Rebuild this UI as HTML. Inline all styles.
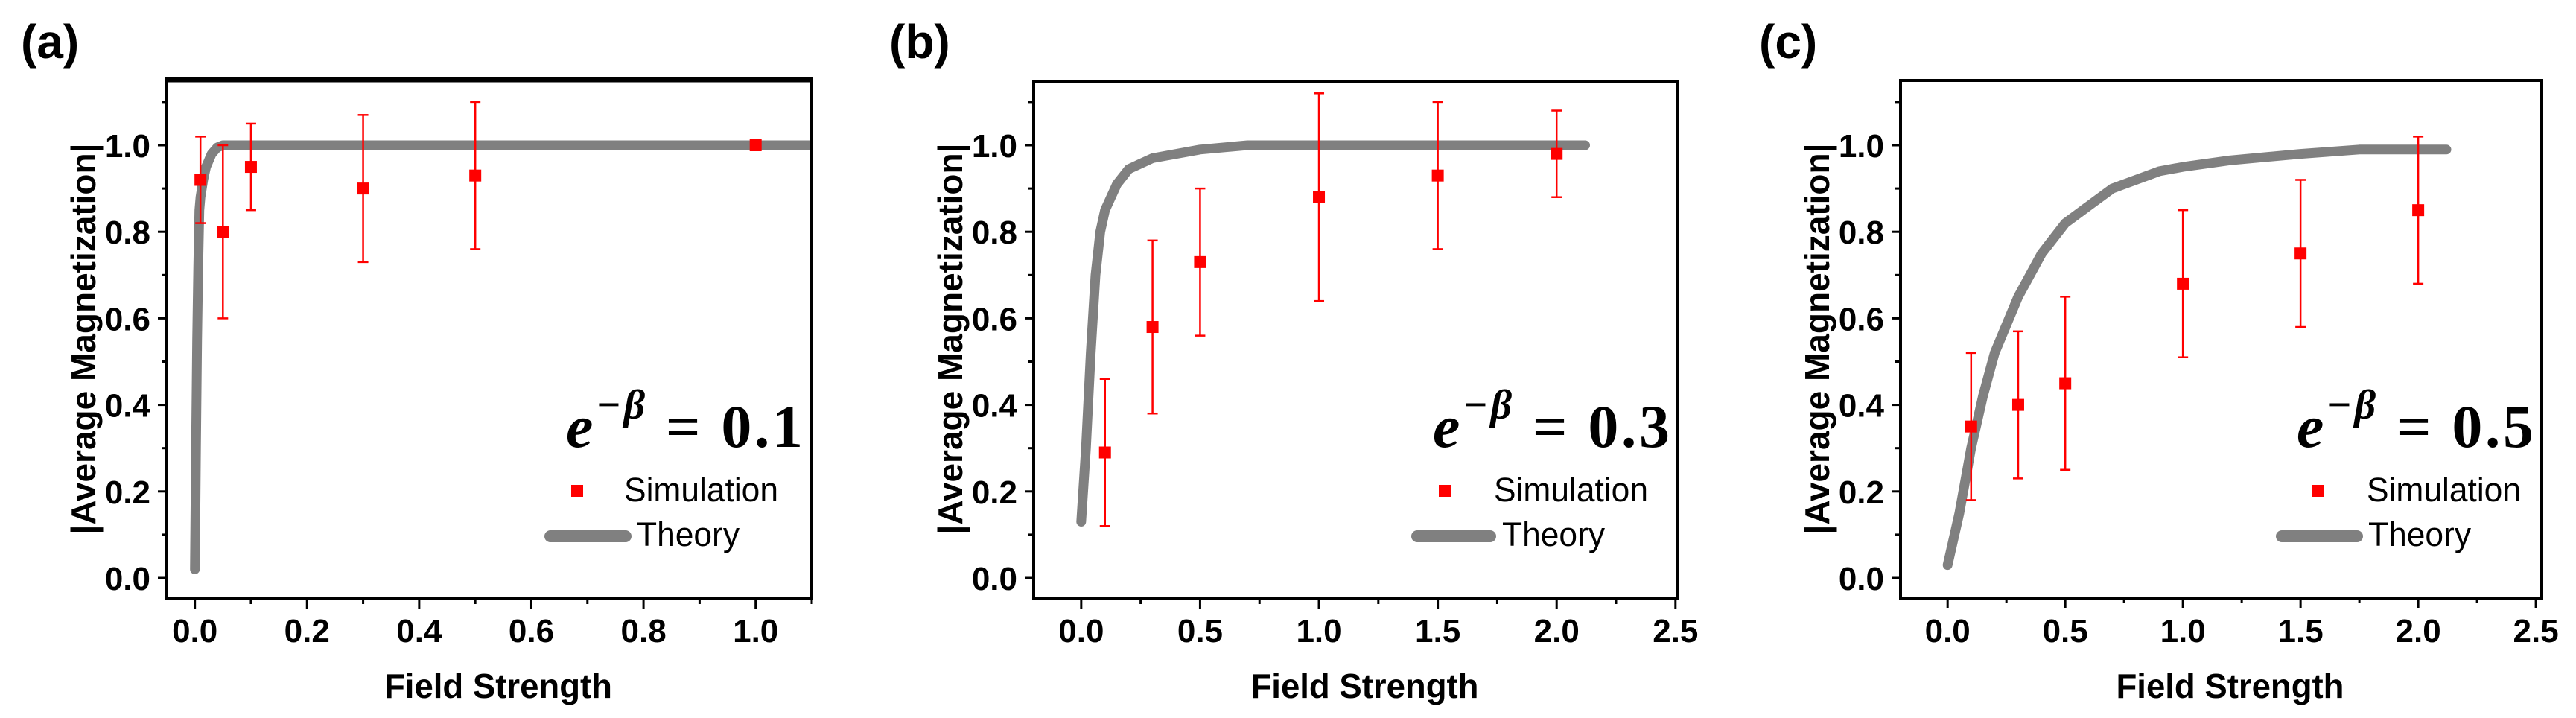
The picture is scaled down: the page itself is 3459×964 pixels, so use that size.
<!DOCTYPE html>
<html><head><meta charset="utf-8"><style>
html,body{margin:0;padding:0;background:#fff;}
svg{display:block;}
text{font-family:"Liberation Sans",Arial,sans-serif;}
text.serif, text.serif tspan{font-family:"Liberation Serif","DejaVu Serif",serif;}
</style></head><body>
<svg id="fig" width="3459" height="964" viewBox="0 0 3459 964" xmlns="http://www.w3.org/2000/svg"></svg>
<script>
// ---- Panel (a) data ----
const simXa = [0.01, 0.05, 0.1, 0.3, 0.5, 1.0];
const simYa = [0.92, 0.80, 0.95, 0.90, 0.93, 1.0];
const simEa = [0.10, 0.20, 0.10, 0.17, 0.17, 0.0];
const thXa = [0, 0.002, 0.004, 0.006, 0.008, 0.01, 0.015, 0.02, 0.03, 0.04, 0.05, 0.1, 0.5, 1.1];
const thYa = [0.02, 0.3, 0.55, 0.72, 0.85, 0.88, 0.92, 0.95, 0.98, 0.995, 1.0, 1.0, 1.0, 1.0];
const xTicksA = ["0.0","0.2","0.4","0.6","0.8","1.0"];
// ---- Panel (b) data ----
const simXb = [0.1, 0.3, 0.5, 1.0, 1.5, 2.0];
const simYb = [0.29, 0.58, 0.73, 0.88, 0.93, 0.98];
const simEb = [0.17, 0.20, 0.17, 0.24, 0.17, 0.10];
const thXb = [0, 0.02, 0.04, 0.06, 0.08, 0.1, 0.15, 0.2, 0.3, 0.5, 0.7, 2.12];
const thYb = [0.13, 0.3, 0.52, 0.7, 0.8, 0.85, 0.91, 0.945, 0.97, 0.99, 1.0, 1.0];
const xTicksBC = ["0.0","0.5","1.0","1.5","2.0","2.5"];
// ---- Panel (c) data ----
const simXc = [0.1, 0.3, 0.5, 1.0, 1.5, 2.0];
const simYc = [0.35, 0.40, 0.45, 0.68, 0.75, 0.85];
const simEc = [0.17, 0.17, 0.20, 0.17, 0.17, 0.17];
const thXc = [0, 0.05, 0.1, 0.15, 0.2, 0.3, 0.4, 0.5, 0.6, 0.7, 0.8, 0.9, 1.0, 1.2, 1.5, 1.75, 2.12];
const thYc = [0.03, 0.15, 0.3, 0.42, 0.52, 0.65, 0.75, 0.82, 0.86, 0.9, 0.92, 0.94, 0.95, 0.965, 0.98, 0.99, 0.99];
const yTicks = ["0.0","0.2","0.4","0.6","0.8","1.0"];
const betaLabels = ["0.1","0.3","0.5"];

const NS = "http://www.w3.org/2000/svg";
const svg = document.getElementById('fig');
function mk(tag, attrs, parent){
  const e = document.createElementNS(NS, tag);
  for (const k in attrs) e.setAttribute(k, attrs[k]);
  (parent||svg).appendChild(e);
  return e;
}

const panels = [
  {id:'a', L:224, R:1090, T:108, B:804, xmin:-0.05, xmax:1.1, xstep:0.2, xminor:0.1, xt:xTicksA,
   sx:simXa, sy:simYa, se:simEa, tx:thXa, ty:thYa, lab:[28,78], ann:760, leg:[775,838,732,847,855], thickTop:true},
  {id:'b', L:1388, R:2253, T:110, B:804, xmin:-0.2, xmax:2.51, xstep:0.5, xminor:0.25, xt:xTicksBC,
   sx:simXb, sy:simYb, se:simEb, tx:thXb, ty:thYb, lab:[1194,78], ann:1924, leg:[1940,2006,1896,2008,2017]},
  {id:'c', L:2552, R:3413, T:108, B:803, xmin:-0.2, xmax:2.525, xstep:0.5, xminor:0.25, xt:xTicksBC,
   sx:simXc, sy:simYc, se:simEc, tx:thXc, ty:thYc, lab:[2362,78], ann:3084, leg:[3113,3178,3057,3172,3180]}
];

panels.forEach((p, pi) => {
  const g = mk('g', {});
  
  
  const Y = v => 776 - v * 581;
  const X = v => p.L + (v - p.xmin) / (p.xmax - p.xmin) * (p.R - p.L);

  const pl = mk('text', {x:p.lab[0], y:p.lab[1], 'font-size':64, 'font-weight':'bold', fill:'#000'}, g);
  pl.textContent = '(' + p.id + ')';
  
  

  const cp = mk('clipPath', {id:'clip' + p.id}, g);
  mk('rect', {x:p.L, y:p.T, width:p.R - p.L, height:p.B - p.T}, cp);

  let d = '';
  p.tx.forEach((v, i) => { d += (i ? 'L' : 'M') + X(v).toFixed(1) + ' ' + Y(p.ty[i]).toFixed(1); });
  const th = mk('path', {d:d, fill:'none', stroke:'#808080', 'stroke-width':13, 'stroke-linecap':'round', 'stroke-linejoin':'round', 'clip-path':'url(#clip' + p.id + ')'}, g);
  
  

  p.sx.forEach((v, i) => {
    const cx = X(v), cy = Y(p.sy[i]), e = p.se[i];
    if (e > 0) {
      const eb = mk('g', {stroke:'#ff0000', 'stroke-width':2.5}, g);
      
      
      mk('line', {x1:cx, x2:cx, y1:Y(p.sy[i] + e), y2:Y(p.sy[i] - e)}, eb);
      mk('line', {x1:cx - 7, x2:cx + 7, y1:Y(p.sy[i] + e), y2:Y(p.sy[i] + e)}, eb);
      mk('line', {x1:cx - 7, x2:cx + 7, y1:Y(p.sy[i] - e), y2:Y(p.sy[i] - e)}, eb);
    }
    const m = mk('rect', {x:cx - 8, y:cy - 8, width:16, height:16, fill:'#ff0000'}, g);
    
    
  });

  const fr = mk('rect', {x:p.L, y:p.T, width:p.R - p.L, height:p.B - p.T, fill:'none', stroke:'#000', 'stroke-width':4}, g);
  
  
  if (p.thickTop) mk('line', {x1:p.L - 2, x2:p.R + 2, y1:p.T - 1, y2:p.T - 1, stroke:'#000', 'stroke-width':7}, g);

  for (let k = 0; k <= 11; k++) {
    const v = k / 10, yy = Y(v);
    const major = k % 2 === 0;
    mk('line', {x1:p.L, x2:p.L - (major ? 12 : 7), y1:yy, y2:yy, stroke:'#000', 'stroke-width':3}, g);
  }
  yTicks.forEach((t, i) => {
    const tl = mk('text', {x:p.L - 22, y:Y(i * 0.2) + 16, 'font-size':44, 'font-weight':'bold', 'text-anchor':'end', fill:'#000'}, g);
    tl.textContent = t;
    
    
  });
  for (let v = Math.ceil(p.xmin / p.xminor - 1e-9) * p.xminor; v <= p.xmax + 1e-9; v += p.xminor) {
    const r = Math.round(v / p.xminor);
    const major = Math.abs(v / p.xstep - Math.round(v / p.xstep)) < 1e-6;
    const xx = X(r * p.xminor);
    mk('line', {x1:xx, x2:xx, y1:p.B, y2:p.B + (major ? 13 : 7), stroke:'#000', 'stroke-width':3}, g);
  }
  p.xt.forEach((t, i) => {
    const tl = mk('text', {x:X(i * p.xstep), y:862, 'font-size':44, 'font-weight':'bold', 'text-anchor':'middle', fill:'#000'}, g);
    tl.textContent = t;
    
    
  });

  const xt = mk('text', {x:(p.L + p.R) / 2 + 12, y:937, 'font-size':46, 'font-weight':'bold', 'text-anchor':'middle', fill:'#000', textLength:306, lengthAdjust:'spacingAndGlyphs'}, g);
  xt.textContent = 'Field Strength';
  
  
  const ycx = p.L - 112, ycy = 455;
  const yt = mk('text', {x:ycx, y:ycy, 'font-size':46, 'font-weight':'bold', 'text-anchor':'middle', fill:'#000', transform:'rotate(-90 ' + ycx + ' ' + ycy + ')', textLength:525, lengthAdjust:'spacingAndGlyphs', 'dominant-baseline':'central'}, g);
  yt.textContent = '|Average Magnetization|';
  
  

  const an = mk('text', {x:p.ann, y:600, 'class':'serif', style:'font-family:"Liberation Serif","DejaVu Serif",serif !important', 'font-size':82, 'font-weight':'bold', fill:'#000', textLength:318, lengthAdjust:'spacing'}, g);
  
  
  const t1 = mk('tspan', {'font-style':'italic'}, an); t1.textContent = 'e';
  const t2 = mk('tspan', {'font-style':'italic', 'font-size':56, dy:-38}, an); t2.textContent = '\u2212\u03B2';
  const t3 = mk('tspan', {dy:38}, an); t3.textContent = ' = ' + betaLabels[pi];

  const lg = mk('g', {}, g);
  
  
  const lm = mk('rect', {x:p.leg[0] - 8, y:651, width:16, height:16, fill:'#ff0000'}, lg);
  
  
  const ls = mk('text', {x:p.leg[1], y:673, 'font-size':45, fill:'#000', textLength:207, lengthAdjust:'spacingAndGlyphs'}, lg);
  ls.textContent = 'Simulation';
  
  
  const ll = mk('line', {x1:p.leg[2] + 7, x2:p.leg[3] - 7, y1:720, y2:720, stroke:'#808080', 'stroke-width':16, 'stroke-linecap':'round'}, lg);
  
  
  const lt = mk('text', {x:p.leg[4], y:733, 'font-size':45, fill:'#000', textLength:138, lengthAdjust:'spacingAndGlyphs'}, lg);
  lt.textContent = 'Theory';
  
  
});
</script>
</body></html>
